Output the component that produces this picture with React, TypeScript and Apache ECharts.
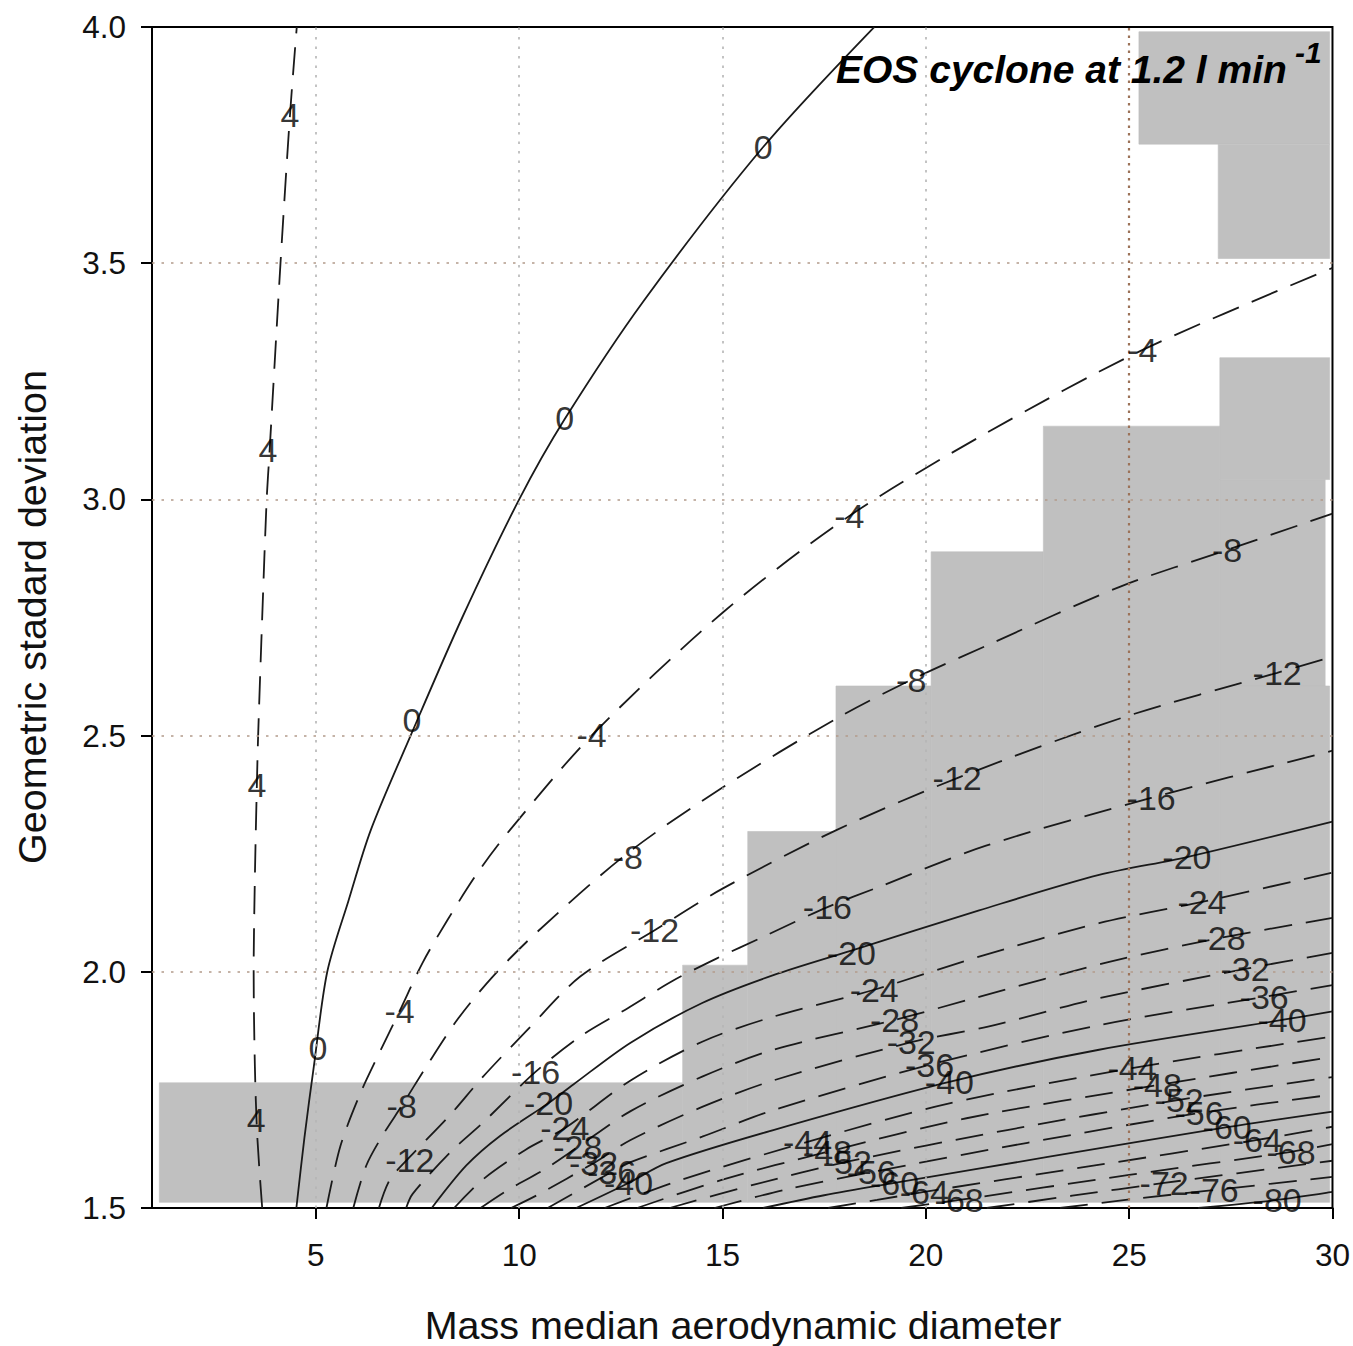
import React, { useEffect, useRef } from "react";
import * as echarts from "echarts";

// ---------- data ----------
const xTicks = [5, 10, 15, 20, 25, 30];
const yTicks = [1.5, 2.0, 2.5, 3.0, 3.5, 4.0];
const xGridValues = [5, 10, 15, 20, 25];
const yGridValues = [2.0, 2.5, 3.0, 3.5];

// shaded cells: [x1, x2, y1, y2]
const grayCells = [
  [1.15, 14.02, 1.512, 1.765],
  [14.02, 15.62, 1.512, 2.014],
  [15.62, 17.79, 1.512, 2.297],
  [17.79, 20.13, 1.512, 2.605],
  [20.13, 22.89, 1.512, 2.889],
  [22.89, 27.23, 1.512, 3.155],
  [27.23, 29.93, 3.042, 3.3],
  [27.23, 29.82, 2.605, 3.042],
  [27.23, 29.93, 1.512, 2.605],
  [25.24, 29.93, 3.752, 3.99],
  [27.19, 29.93, 3.51, 3.752],
];

const contourLevels = [4, 0, -4, -8, -12, -16, -20, -24, -28, -32, -36, -40, -44, -48, -52, -56, -60, -64, -68, -72, -76, -80];

const c4 = [[3.68, 1.5], [3.56, 1.65], [3.5, 1.8], [3.47, 2.0], [3.5, 2.2], [3.55, 2.4], [3.58, 2.5], [3.68, 2.75], [3.79, 3.0], [3.86, 3.1], [4.13, 3.5], [4.36, 3.81], [4.53, 4.0]];
const c0 = [[4.52, 1.5], [4.72, 1.65], [4.95, 1.8], [5.28, 2.0], [5.8, 2.15], [6.35, 2.3], [7.33, 2.5], [8.6, 2.75], [10.0, 3.0], [11.12, 3.17], [13.06, 3.42], [16.0, 3.746], [18.73, 4.0]];
const cM4 = [[5.26, 1.5], [5.6, 1.63], [6.08, 1.74], [6.57, 1.83], [7.06, 1.917], [7.63, 2.02], [8.24, 2.11], [8.98, 2.21], [9.77, 2.3], [11.78, 2.5], [15.0, 2.76], [18.12, 2.965], [21.48, 3.14], [25.32, 3.316], [30.0, 3.49]];
const cM8 = [[5.92, 1.5], [6.24, 1.59], [6.65, 1.655], [7.11, 1.716], [7.72, 1.8], [8.49, 1.9], [9.35, 1.99], [10.45, 2.085], [12.65, 2.25], [15.0, 2.39], [17.8, 2.536], [19.64, 2.618], [21.48, 2.69], [24.8, 2.816], [27.41, 2.893], [30.0, 2.97]];
const cM12 = [[6.55, 1.5], [6.82, 1.56], [7.31, 1.608], [8.29, 1.696], [9.1, 1.777], [10.19, 1.876], [11.5, 1.99], [13.33, 2.088], [15.0, 2.176], [17.8, 2.3], [20.77, 2.41], [24.8, 2.537], [28.64, 2.633], [30.0, 2.667]];
const cM16 = [[7.22, 1.5], [7.38, 1.53], [8.33, 1.62], [9.1, 1.68], [10.4, 1.788], [11.5, 1.863], [12.67, 1.923], [13.8, 1.982], [14.85, 2.028], [16.0, 2.074], [17.58, 2.137], [18.86, 2.18], [21.48, 2.267], [25.54, 2.368], [30.0, 2.468]];
const cM20 = [[7.85, 1.5], [8.7, 1.59], [9.52, 1.652], [10.72, 1.722], [11.34, 1.762], [12.74, 1.85], [14.5, 1.934], [16.25, 1.993], [18.17, 2.045], [21.31, 2.13], [24.26, 2.205], [26.42, 2.243], [30.0, 2.318]];
const cM24 = [[8.4, 1.5], [9.1, 1.56], [10.15, 1.623], [11.12, 1.669], [12.74, 1.77], [14.5, 1.852], [16.25, 1.905], [18.73, 1.962], [21.31, 2.032], [24.26, 2.103], [26.79, 2.148], [30.0, 2.21]];
const cM28 = [[9.05, 1.5], [9.72, 1.538], [10.59, 1.58], [11.44, 1.629], [12.74, 1.705], [14.5, 1.778], [16.25, 1.835], [19.23, 1.898], [21.31, 1.947], [24.51, 2.021], [27.26, 2.072], [30.0, 2.114]];
const cM32 = [[9.8, 1.5], [10.5, 1.53], [11.83, 1.595], [12.74, 1.644], [14.5, 1.714], [16.25, 1.77], [19.64, 1.851], [21.53, 1.884], [24.26, 1.944], [27.85, 2.006], [30.0, 2.04]];
const cM36 = [[10.7, 1.5], [12.27, 1.576], [12.74, 1.597], [14.5, 1.651], [16.25, 1.707], [20.09, 1.803], [24.26, 1.887], [28.32, 1.947], [30.0, 1.972]];
const cM40 = [[11.4, 1.5], [12.69, 1.553], [13.62, 1.595], [16.25, 1.665], [20.58, 1.767], [24.26, 1.835], [28.76, 1.898], [30.0, 1.916]];
const cM44 = [[12.1, 1.5], [14.0, 1.56], [17.09, 1.64], [20.5, 1.72], [25.07, 1.796], [30.0, 1.863]];
const cM48 = [[12.9, 1.5], [15.0, 1.56], [17.58, 1.619], [21.0, 1.69], [25.69, 1.76], [30.0, 1.82]];
const cM52 = [[13.7, 1.5], [15.8, 1.55], [18.07, 1.598], [22.0, 1.665], [26.23, 1.729], [30.0, 1.777]];
const cM56 = [[14.8, 1.5], [16.6, 1.54], [18.66, 1.576], [22.5, 1.638], [26.72, 1.701], [30.0, 1.74]];
const cM60 = [[16.0, 1.5], [17.5, 1.527], [19.23, 1.553], [23.0, 1.608], [27.41, 1.671], [30.0, 1.704]];
const cM64 = [[17.6, 1.5], [18.8, 1.517], [19.96, 1.534], [24.0, 1.588], [28.15, 1.644], [30.0, 1.672]];
const cM68 = [[19.4, 1.5], [20.82, 1.517], [25.0, 1.57], [28.98, 1.619], [30.0, 1.635]];
const cM72 = [[21.5, 1.5], [23.6, 1.526], [25.86, 1.553], [30.0, 1.6]];
const cM76 = [[23.3, 1.5], [25.2, 1.52], [27.09, 1.538], [30.0, 1.566]];
const cM80 = [[26.7, 1.5], [28.64, 1.517], [30.0, 1.534]];

const contourLines = [c4, c0, cM4, cM8, cM12, cM16, cM20, cM24, cM28, cM32, cM36, cM40, cM44, cM48, cM52, cM56, cM60, cM64, cM68, cM72, cM76, cM80];

// contour labels: [x, y, text]
const contourLabels = [
  [4.36, 3.814, "4"], [3.82, 3.105, "4"], [3.55, 2.395, "4"], [3.53, 1.686, "4"],
  [16.0, 3.746, "0"], [11.12, 3.172, "0"], [7.36, 2.533, "0"], [5.05, 1.839, "0"],
  [7.06, 1.917, "-4"], [11.78, 2.501, "-4"], [18.12, 2.965, "-4"], [25.32, 3.316, "-4"],
  [7.11, 1.716, "-8"], [12.67, 2.243, "-8"], [19.64, 2.618, "-8"], [27.41, 2.893, "-8"],
  [7.31, 1.602, "-12"], [13.33, 2.088, "-12"], [20.77, 2.41, "-12"], [28.64, 2.633, "-12"],
  [10.4, 1.788, "-16"], [17.58, 2.137, "-16"], [25.54, 2.368, "-16"],
  [10.72, 1.722, "-20"], [18.17, 2.04, "-20"], [26.42, 2.243, "-20"],
  [11.12, 1.669, "-24"], [18.73, 1.962, "-24"], [26.79, 2.148, "-24"],
  [11.44, 1.629, "-28"], [19.23, 1.898, "-28"], [27.26, 2.072, "-28"],
  [11.83, 1.595, "-32"], [19.64, 1.851, "-32"], [27.85, 2.006, "-32"],
  [12.27, 1.576, "-36"], [20.09, 1.803, "-36"], [28.32, 1.947, "-36"],
  [12.69, 1.553, "-40"], [20.58, 1.767, "-40"], [28.76, 1.898, "-40"],
  [17.09, 1.64, "-44"], [25.07, 1.796, "-44"],
  [17.58, 1.619, "-48"], [25.69, 1.76, "-48"],
  [18.07, 1.598, "-52"], [26.23, 1.729, "-52"],
  [18.66, 1.576, "-56"], [26.72, 1.701, "-56"],
  [19.23, 1.553, "-60"], [27.41, 1.671, "-60"],
  [19.96, 1.534, "-64"], [28.15, 1.644, "-64"],
  [20.82, 1.517, "-68"], [28.98, 1.619, "-68"],
  [25.86, 1.553, "-72"], [27.09, 1.538, "-76"], [28.64, 1.517, "-80"],
];

const xTitle = "Mass median aerodynamic diameter";
const yTitle = "Geometric stadard deviation";
const panelTitle = "EOS cyclone at 1.2 l min";
const panelTitleSup = "-1";

const FONT = '"Liberation Sans", Arial, Helvetica, sans-serif';

export default function App() {
  const ref = useRef<HTMLDivElement>(null);

  useEffect(() => {
    if (!ref.current) return;
    const chart = echarts.init(ref.current, undefined, { renderer: "svg" });

    const lineSeries = contourLines.map((pts, i) => {
      const level = contourLevels[i];
      const solid = level % 20 === 0;
      return {
        type: "line",
        name: "c" + level,
        data: pts,
        smooth: 0.3,
        showSymbol: false,
        symbol: "none",
        silent: true,
        z: 4,
        lineStyle: {
          color: "#1a1a1a",
          width: 1.8,
          type: solid ? "solid" : [28, 14],
        },
      };
    });

    const option: any = {
      animation: false,
      backgroundColor: "#ffffff",
      grid: {
        left: 152,
        top: 27,
        width: 1181,
        height: 1181,
        show: true,
        borderColor: "#000",
        borderWidth: 2,
        backgroundColor: "transparent",
      },
      xAxis: {
        type: "value",
        min: 0.97,
        max: 30,
        axisLine: { show: true, onZero: false, lineStyle: { color: "#000", width: 2 } },
        axisTick: { show: true, customValues: xTicks, length: 11, lineStyle: { color: "#000", width: 2 } },
        axisLabel: {
          show: true,
          customValues: xTicks,
          fontSize: 31.5,
          fontFamily: FONT,
          color: "#111",
          margin: 31,
        },
        splitLine: { show: false },
      },
      yAxis: {
        type: "value",
        min: 1.5,
        max: 4.0,
        interval: 0.5,
        axisLine: { show: true, onZero: false, lineStyle: { color: "#000", width: 2 } },
        axisTick: { show: true, length: 11, lineStyle: { color: "#000", width: 2 } },
        axisLabel: {
          show: true,
          fontSize: 31.5,
          fontFamily: FONT,
          color: "#111",
          margin: 26,
          formatter: (v: number) => (yTicks.indexOf(v) >= 0 ? v.toFixed(1) : ""),
        },
        splitLine: { show: false },
      },
      series: [
        {
          type: "custom",
          name: "gray",
          silent: true,
          z: 1,
          data: grayCells,
          encode: { x: [0, 1], y: [2, 3] },
          renderItem: (params: any, api: any) => {
            const p1 = api.coord([api.value(0), api.value(3)]);
            const p2 = api.coord([api.value(1), api.value(2)]);
            return {
              type: "rect",
              shape: { x: p1[0], y: p1[1], width: p2[0] - p1[0], height: p2[1] - p1[1] },
              style: { fill: "#c0c0c0", stroke: "#c0c0c0", lineWidth: 0.6 },
            };
          },
        },
        {
          type: "line",
          name: "grid",
          data: [],
          silent: true,
          z: 2,
          markLine: {
            silent: true,
            symbol: ["none", "none"],
            label: { show: false },
            animation: false,
            data: [
              ...xGridValues.map((v) => ({
                xAxis: v,
                lineStyle: {
                  type: v === 25 ? [2.5, 5] : [2.5, 7],
                  color: v === 25 ? "#9c7258" : "#b5b5b5",
                  width: v === 25 ? 2.2 : 1.6,
                },
              })),
              ...yGridValues.map((v) => ({
                yAxis: v,
                lineStyle: { type: [2.5, 7], color: "#b39a8a", width: 1.7 },
              })),
            ],
          },
        },
        ...lineSeries,
        {
          type: "scatter",
          name: "labels",
          data: contourLabels,
          symbolSize: 1,
          silent: true,
          z: 6,
          itemStyle: { color: "rgba(0,0,0,0)" },
          label: {
            show: true,
            position: "inside",
            formatter: (p: any) => p.data[2],
            fontSize: 34,
            fontFamily: FONT,
            color: "#000",
          },
        },
      ],
      graphic: [
        {
          type: "text",
          left: 836,
          top: 50,
          z: 10,
          style: {
            text: panelTitle,
            font: `italic bold 39px ${FONT}`,
            fill: "#000",
          },
        },
        {
          type: "text",
          left: 1295,
          top: 37,
          z: 10,
          style: {
            text: panelTitleSup,
            font: `italic bold 30px ${FONT}`,
            fill: "#000",
          },
        },
        {
          type: "text",
          x: 743,
          y: 1325,
          z: 10,
          style: {
            text: xTitle,
            font: `39.5px ${FONT}`,
            fill: "#111",
            align: "center",
            verticalAlign: "middle",
          },
        },
        {
          type: "text",
          x: 32,
          y: 617,
          rotation: Math.PI / 2,
          z: 10,
          style: {
            text: yTitle,
            font: `39.5px ${FONT}`,
            fill: "#111",
            align: "center",
            verticalAlign: "middle",
          },
        },
      ],
    };

    chart.setOption(option);
    return () => chart.dispose();
  }, []);

  return (
    <div
      ref={ref}
      style={{ position: "fixed", left: 0, top: 0, width: 1353, height: 1346, background: "#fff" }}
    />
  );
}
